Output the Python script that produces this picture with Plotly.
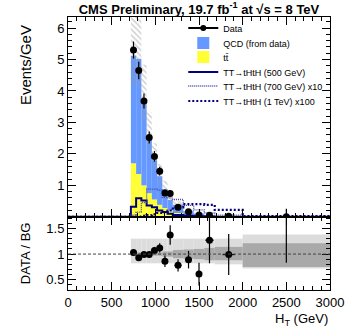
import numpy as np
import plotly.graph_objects as go

# bin edges (GeV)
edges = [720, 780, 840, 900, 960, 1020, 1080, 1140, 1200, 1320, 1440, 1560, 1680, 2000, 3000]

# backgrounds (events / GeV)
qcd = [3.42, 3.66, 2.72, 1.80, 1.25, 0.91, 0.60, 0.34, 0.26, 0.12, 0.07, 0.028, 0.015, 0.003]
ttbar = [1.70, 1.36, 1.00, 0.75, 0.55, 0.38, 0.28, 0.20, 0.12, 0.06, 0.03, 0.012, 0.005, 0.001]

# total background uncertainty (relative up / down)
unc_up = [1.30, 1.30, 1.30, 1.30, 1.30, 1.30, 1.30, 1.30, 1.30, 1.30, 1.30, 1.30, 1.30, 1.38]
unc_dn = [0.82, 0.82, 0.82, 0.82, 0.82, 0.82, 0.82, 0.82, 0.82, 0.82, 0.82, 0.82, 0.80, 0.72]
stat_up = [1.03, 1.03, 1.03, 1.03, 1.03, 1.03, 1.05, 1.05, 1.08, 1.09, 1.10, 1.12, 1.14, 1.21]
stat_dn = [0.97, 0.97, 0.97, 0.97, 0.97, 0.97, 0.95, 0.95, 0.92, 0.91, 0.90, 0.88, 0.88, 0.75]

# signals
sig500 = [0.32, 0.59, 0.52, 0.36, 0.30, 0.20, 0.15, 0.10, 0.06, 0.03, 0.015, 0.008, 0.004, 0.001]
sig700 = [0.05, 0.15, 0.45, 0.88, 0.88, 0.85, 0.62, 0.60, 0.55, 0.36, 0.22, 0.12, 0.05, 0.01]
sig1000 = [0.0, 0.01, 0.03, 0.05, 0.08, 0.12, 0.15, 0.20, 0.30, 0.40, 0.40, 0.38, 0.22, 0.02]

# data
data = [5.30, 4.65, 3.68, 2.52, 1.92, 1.45, 0.76, 0.74, 0.30, 0.16, 0.06, 0.05, 0.02, 0.005]
data_err = [0.27, 0.28, 0.24, 0.19, 0.17, 0.14, 0.10, 0.10, 0.05, 0.04, 0.02, 0.02, 0.01, 0.25]

# data / background
ratio = [1.03, 0.93, 0.99, 0.99, 1.07, 1.12, 0.86, 1.37, 0.78, 0.89, 0.61, 1.27, 0.99, 1.90]
ratio_err = [0.05, 0.05, 0.05, 0.06, 0.07, 0.09, 0.11, 0.19, 0.12, 0.17, 0.22, 0.45, 0.40, 1.07]
ratio_xerr = [0, 0, 0, 0, 0, 0, 0, 0, 40, 40, 30, 48, 70, 0]

legend_rows = [28, 43, 57, 72, 86, 101]  # legend row centres, px from top

e = np.array(edges, dtype=float)
centers = (e[:-1] + e[1:]) / 2
widths = e[1:] - e[:-1]
bg = np.array(qcd) + np.array(ttbar)

navy = "#000080"
fig = go.Figure()

# stacked backgrounds
fig.add_trace(go.Bar(x=centers, y=ttbar, width=widths, base=0, name="tt\u0304", legend="legend3",
                     marker=dict(color="#ffff33", line=dict(width=0))))
fig.add_trace(go.Bar(x=centers, y=qcd, width=widths, base=ttbar, name="QCD (from data)", legend="legend2",
                     marker=dict(color="#6699ff", line=dict(width=0))))

# uncertainty hatch
lo = bg * np.array(unc_dn)
hi = bg * np.array(unc_up)
fig.add_trace(go.Bar(x=centers, y=hi - lo, width=widths, base=lo, showlegend=False,
                     marker=dict(color="rgba(0,0,0,0)", line=dict(width=0),
                                 pattern=dict(shape="\\", fgcolor="#999999", bgcolor="rgba(0,0,0,0)",
                                              size=4, solidity=0.35))))

def steps(vals):
    return [0] + list(edges), [0] + list(vals) + [vals[-1]]

sx, sy = steps(sig500)
fig.add_trace(go.Scatter(x=sx, y=sy, mode="lines", line=dict(color=navy, width=2, shape="hv"),
                         name="TT\u2192tHtH (500 GeV)", legend="legend4"))
sx, sy = steps(sig700)
fig.add_trace(go.Scatter(x=sx, y=sy, mode="lines", line=dict(color="#4444aa", width=1.3, shape="hv", dash="1px,1px"),
                         name="TT\u2192tHtH (700 GeV) x10", legend="legend5"))
sx, sy = steps(sig1000)
fig.add_trace(go.Scatter(x=sx, y=sy, mode="lines", line=dict(color=navy, width=2.2, shape="hv", dash="2px,2px"),
                         name="TT\u2192tHtH (1 TeV) x100", legend="legend6"))

# data
fig.add_trace(go.Scatter(x=centers, y=data, mode="markers", showlegend=False,
                         marker=dict(color="black", size=7),
                         error_y=dict(type="data", array=data_err, color="black", thickness=1.2, width=0)))
fig.add_trace(go.Scatter(x=[None], y=[None], mode="lines+markers", name="Data", legend="legend",
                         marker=dict(color="black", size=6), line=dict(color="black", width=2)))

# ratio panel
fig.add_trace(go.Bar(x=centers, y=np.array(unc_up) - np.array(unc_dn), base=unc_dn, width=widths,
                     xaxis="x2", yaxis="y2", showlegend=False,
                     marker=dict(color="#dcdcdc", line=dict(width=0))))
fig.add_trace(go.Bar(x=centers, y=np.array(stat_up) - np.array(stat_dn), base=stat_dn, width=widths,
                     xaxis="x2", yaxis="y2", showlegend=False,
                     marker=dict(color="#a9a9a9", line=dict(width=0))))
fig.add_trace(go.Scatter(x=centers, y=ratio, mode="markers", xaxis="x2", yaxis="y2", showlegend=False,
                         marker=dict(color="black", size=7),
                         error_y=dict(type="data", array=ratio_err, color="black", thickness=1.2, width=0),
                         error_x=dict(type="data", array=ratio_xerr, color="black", thickness=1.2, width=0)))

fig.add_shape(type="line", xref="x2", yref="y2", x0=0, x1=3000, y0=1, y1=1,
              line=dict(color="#444444", width=1, dash="3px,2px"))

axis_common = dict(showline=True, linecolor="black", linewidth=1, mirror="ticks",
                   ticks="inside", ticklen=8, tickcolor="black", showgrid=False, zeroline=False,
                   tickfont=dict(size=13, color="black"))

plot_top, plot_h = 17, 273
legends = {}
for i, row in enumerate(legend_rows):
    key = "legend" if i == 0 else "legend%d" % (i + 1)
    legends[key] = dict(x=0.44, y=(plot_top + plot_h - row) / plot_h,
                        xanchor="left", yanchor="middle", bgcolor="rgba(0,0,0,0)",
                        font=dict(size=9, color="black"))

fig.update_layout(
    width=351, height=330,
    margin=dict(l=68, r=21, t=17, b=40, autoexpand=False),
    paper_bgcolor="white", plot_bgcolor="white",
    font=dict(family="Liberation Sans, Arial, sans-serif", color="black"),
    barmode="overlay",
    title=dict(text="<b>CMS Preliminary, 19.7 fb<sup>-1</sup> at \u221as = 8 TeV</b>",
               x=0.5, xref="paper", xanchor="center", y=0.972, yanchor="middle",
               font=dict(size=13, color="black")),
    xaxis=dict(axis_common, range=[0, 3000], domain=[0, 1], anchor="y", matches="x2",
               showticklabels=False, dtick=500, tick0=0,
               minor=dict(ticks="inside", ticklen=4, dtick=100, tick0=0, tickcolor="black")),
    yaxis=dict(axis_common, range=[-0.01, 6.35], domain=[0.267, 1], anchor="x",
               tickvals=[1, 2, 3, 4, 5, 6],
               minor=dict(ticks="inside", ticklen=4, dtick=0.2, tick0=0, tickcolor="black")),
    xaxis2=dict(axis_common, range=[0, 3000], domain=[0, 1], anchor="y2", dtick=500, tick0=0,
                minor=dict(ticks="inside", ticklen=4, dtick=100, tick0=0, tickcolor="black")),
    yaxis2=dict(axis_common, range=[0.3, 1.72], domain=[0, 0.267], anchor="x2",
                tickvals=[0.5, 1, 1.5], ticktext=["0.5", "1", "1.5"],
                minor=dict(ticks="inside", ticklen=4, dtick=0.1, tick0=0, tickcolor="black")),
    annotations=[
        dict(text="Events/GeV", x=-0.164, y=0.824, xref="paper", yref="paper", textangle=-90,
             showarrow=False, xanchor="center", yanchor="middle", font=dict(size=15)),
        dict(text="DATA / BG", x=-0.164, y=0.135, xref="paper", yref="paper", textangle=-90,
             showarrow=False, xanchor="center", yanchor="middle", font=dict(size=13)),
        dict(text="H<sub>T</sub> (GeV)", x=1, y=-0.068, xref="paper", yref="paper",
             showarrow=False, xanchor="right", yanchor="top", font=dict(size=13)),
    ],
    **legends,
)

fig.write_html("out.html", config={"displayModeBar": False},
               post_script="document.body.style.margin = '0px';")
